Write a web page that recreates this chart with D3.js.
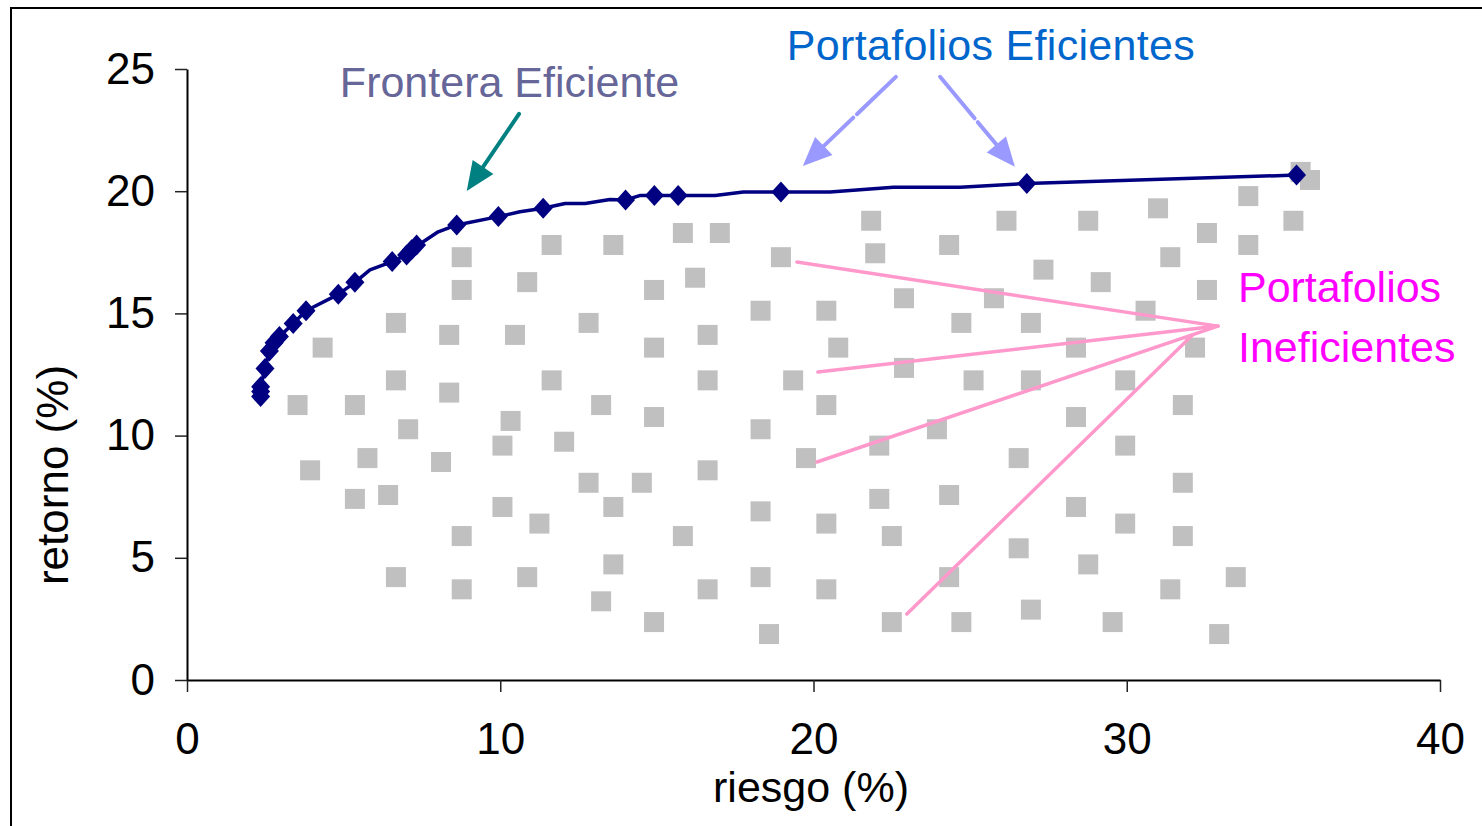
<!DOCTYPE html>
<html>
<head>
<meta charset="utf-8">
<script src="https://cdn.jsdelivr.net/npm/d3@7"></script>
<style>
  html, body { margin: 0; padding: 0; background: #fff; overflow: hidden; }
  svg text { font-family: "Liberation Sans", Arial, sans-serif; }
</style>
</head>
<body>
<svg id="chart" width="1482" height="826"></svg>
<script>
// Axis ticks
const xTicks = [0, 10, 20, 30, 40];
const yTicks = [0, 5, 10, 15, 20, 25];

// Inefficient portfolios: risk (%) and return (%)
const riesgoIneficiente = [
  8.77, 8.77, 6.67, 8.37, 4.33, 6.67, 8.37, 3.53, 5.36, 7.06, 3.93, 5.76, 8.11, 5.36, 6.42, 6.67, 8.77, 8.77,
  11.64, 13.61, 10.86, 10.47, 12.82, 11.64, 10.07, 10.33, 12.04, 10.07, 11.25, 10.86, 13.22, 12.82, 13.61, 13.61, 13.22, 14.52,
  14.91, 14.91, 14.91, 14.91, 15.83, 16.22, 16.62, 16.62, 16.62, 15.83, 16.62, 17.01,
  18.31, 18.96, 19.35, 18.31, 19.76, 18.31, 18.31, 18.58,
  21.84, 21.97, 20.41, 20.79, 20.41, 22.10, 20.41, 22.10, 22.50, 20.41, 22.50, 22.89, 22.89,
  24.33, 24.72, 23.94, 25.11, 24.33, 24.33, 24.72,
  26.16, 25.76, 26.94, 27.34, 26.94, 26.55, 26.55, 26.94,
  28.77, 29.17, 28.38, 28.38, 28.38, 28.77, 29.55,
  31.00, 30.60, 29.95, 29.95, 29.95,
  31.39, 31.79, 31.79, 31.79, 31.39,
  32.56, 32.56, 32.18, 32.95, 33.48, 33.88, 33.88,
  35.32, 35.55, 35.85
];
const retornoIneficiente = [
  17.30, 15.96, 14.61, 14.12, 13.60, 12.26, 11.76, 11.25, 11.25, 10.26, 8.58, 9.08, 8.92, 7.41, 7.57, 4.21, 5.89, 3.71,
  17.80, 17.80, 16.28, 14.12, 14.61, 12.26, 9.59, 10.60, 9.75, 7.08, 6.40, 4.21, 11.25, 8.07, 7.08, 4.73, 3.22, 8.07,
  15.96, 13.60, 10.76, 2.37, 18.29, 16.46, 14.12, 12.26, 8.58, 5.89, 3.71, 18.29,
  15.11, 17.30, 12.26, 10.26, 9.08, 6.90, 4.21, 1.88,
  18.79, 17.46, 15.11, 13.60, 11.25, 9.59, 6.40, 7.41, 5.89, 3.71, 2.37, 15.62, 12.77,
  17.80, 14.61, 10.26, 12.26, 7.57, 4.21, 2.37,
  18.79, 15.62, 14.61, 16.79, 12.26, 9.08, 5.39, 2.88,
  18.79, 16.28, 13.60, 10.76, 7.08, 4.73, 2.37,
  19.30, 15.11, 12.26, 9.59, 6.40,
  17.30, 11.25, 8.07, 5.89, 3.71,
  18.29, 15.96, 13.60, 1.88, 4.21, 19.80, 17.80,
  18.79, 20.79, 20.46
];

// Efficient frontier curve
const riesgoFrontera = [
  2.35, 2.35, 2.49, 2.63, 2.78, 2.95, 3.39, 3.80, 4.83, 5.36, 5.84, 6.55, 7.01, 7.33, 7.54, 8.02,
  8.61, 9.94, 10.63, 11.37, 12.07, 12.71, 13.50, 14.00, 14.45, 14.92, 15.68, 16.86, 17.76, 18.96,
  20.53, 22.55, 24.68, 26.81, 35.42
];
const retornoFrontera = [
  11.60, 12.00, 12.75, 13.46, 13.80, 14.05, 14.59, 15.11, 15.78, 16.27, 16.78, 17.12, 17.39, 17.80, 17.93, 18.34,
  18.62, 18.96, 19.16, 19.30, 19.50, 19.50, 19.66, 19.64, 19.82, 19.82, 19.82, 19.82, 19.97, 19.97,
  19.97, 20.16, 20.16, 20.32, 20.66
];

// Efficient portfolios marked on the frontier
const riesgoEficiente = [
  2.35, 2.35, 2.35, 2.49, 2.63, 2.78, 2.95, 3.39, 3.80, 4.83, 5.36, 6.55, 7.01, 7.17, 7.33,
  8.61, 9.94, 11.37, 14.00, 14.92, 15.68, 18.96, 26.81, 35.42
];
const retornoEficiente = [
  11.60, 11.80, 12.00, 12.75, 13.46, 13.80, 14.05, 14.59, 15.11, 15.78, 16.27, 17.12, 17.39, 17.60, 17.80,
  18.62, 18.96, 19.30, 19.64, 19.82, 19.82, 19.97, 20.32, 20.66
];

// Leader lines pointing at inefficient portfolios: [x0, y0, x1, y1]
const lineasIneficientes = [
  [19.47, 17.10, 32.91, 14.48],
  [20.14, 12.60, 32.91, 14.48],
  [20.11, 8.92, 32.91, 14.48],
  [22.98, 2.70, 32.10, 14.12]
];

const svg = d3.select("#chart");
const W = 1482, H = 826;

const x = d3.scaleLinear().domain([0, 40]).range([187, 1440]);
const y = d3.scaleLinear().domain([0, 25]).range([680, 69]);

// outer frame
svg.append("rect")
  .attr("x", 11).attr("y", 8)
  .attr("width", W + 20).attr("height", H + 20)
  .attr("fill", "#fff").attr("stroke", "#000").attr("stroke-width", 2);

// axes
const gx = svg.append("g")
  .attr("transform", "translate(0,680)")
  .call(d3.axisBottom(x).tickValues(xTicks).tickSize(12).tickSizeOuter(0).tickPadding(31));
const gy = svg.append("g")
  .attr("transform", "translate(187,0)")
  .call(d3.axisLeft(y).tickValues(yTicks).tickSize(12).tickSizeOuter(0).tickPadding(20));

[gx, gy].forEach(g => {
  g.select(".domain").attr("stroke", "#000").attr("stroke-width", 2);
  g.selectAll(".tick line").attr("stroke", "#222").attr("stroke-width", 1.5);
  g.selectAll(".tick text")
    .attr("fill", "#000")
    .style("font-family", "'Liberation Sans', Arial, sans-serif")
    .style("font-size", "44px");
});

// axis titles
svg.append("text")
  .attr("x", 811).attr("y", 802)
  .attr("text-anchor", "middle")
  .style("font-size", "43px")
  .attr("fill", "#000")
  .text("riesgo (%)");

svg.append("text")
  .attr("transform", "translate(68,475) rotate(-90)")
  .attr("text-anchor", "middle")
  .style("font-size", "44px")
  .attr("fill", "#000")
  .text("retorno (%)");

// inefficient portfolios (grey squares)
const sq = 20;
svg.append("g")
  .selectAll("rect")
  .data(d3.range(riesgoIneficiente.length))
  .join("rect")
  .attr("x", i => x(riesgoIneficiente[i]) - sq / 2)
  .attr("y", i => y(retornoIneficiente[i]) - sq / 2)
  .attr("width", sq).attr("height", sq)
  .attr("fill", "#C0C0C0");

// leader lines for the inefficient-portfolio label
svg.append("g")
  .selectAll("line")
  .data(lineasIneficientes)
  .join("line")
  .attr("x1", d => x(d[0])).attr("y1", d => y(d[1]))
  .attr("x2", d => x(d[2])).attr("y2", d => y(d[3]))
  .attr("stroke", "#FF99CC").attr("stroke-width", 3.5)
  .attr("stroke-linecap", "round");

// efficient frontier
const frontier = d3.range(riesgoFrontera.length).map(i => [riesgoFrontera[i], retornoFrontera[i]]);
svg.append("path")
  .datum(frontier)
  .attr("fill", "none")
  .attr("stroke", "#000080")
  .attr("stroke-width", 3.5)
  .attr("stroke-linejoin", "round")
  .attr("d", d3.line().x(d => x(d[0])).y(d => y(d[1])));

// efficient portfolios (diamonds)
svg.append("g")
  .selectAll("path")
  .data(d3.range(riesgoEficiente.length))
  .join("path")
  .attr("transform", i => `translate(${x(riesgoEficiente[i])},${y(retornoEficiente[i])})`)
  .attr("d", "M0,-10.5L9.5,0L0,10.5L-9.5,0Z")
  .attr("fill", "#000080");

// arrows
function arrow(x0, y0, x1, y1, color, dash) {
  const px0 = x(x0), py0 = y(y0), px1 = x(x1), py1 = y(y1);
  const dx = px1 - px0, dy = py1 - py0;
  const len = Math.hypot(dx, dy);
  const ux = dx / len, uy = dy / len;
  const headL = 29, headW = 25;
  const bx = px1 - ux * headL, by = py1 - uy * headL;
  svg.append("line")
    .attr("x1", px0).attr("y1", py0)
    .attr("x2", bx + ux * 2).attr("y2", by + uy * 2)
    .attr("stroke", color).attr("stroke-width", 4)
    .attr("stroke-linecap", "round")
    .attr("stroke-dasharray", dash || null);
  const nx = -uy, ny = ux;
  svg.append("path")
    .attr("d", `M${px1},${py1}L${bx + nx * headW / 2},${by + ny * headW / 2}L${bx - nx * headW / 2},${by - ny * headW / 2}Z`)
    .attr("fill", color);
}

arrow(10.60, 23.16, 8.93, 20.01, "#008080");
arrow(22.63, 24.68, 19.66, 21.03, "#9999FF", "54,5,400");
arrow(24.04, 24.68, 26.43, 21.00, "#9999FF", "54,5,400");

// labels
svg.append("text")
  .attr("x", x(4.88)).attr("y", y(23.85))
  .style("font-size", "43px")
  .attr("fill", "#666699")
  .text("Frontera Eficiente");

svg.append("text")
  .attr("x", x(19.15)).attr("y", y(25.37))
  .style("font-size", "43px")
  .style("letter-spacing", "0.3px")
  .attr("fill", "#0066CC")
  .text("Portafolios Eficientes");

svg.append("text")
  .attr("x", x(33.55)).attr("y", y(15.48))
  .style("font-size", "43px")
  .attr("fill", "#FF00FF")
  .text("Portafolios");

svg.append("text")
  .attr("x", x(33.55)).attr("y", y(13.02))
  .style("font-size", "43px")
  .attr("fill", "#FF00FF")
  .text("Ineficientes");
</script>
</body>
</html>
